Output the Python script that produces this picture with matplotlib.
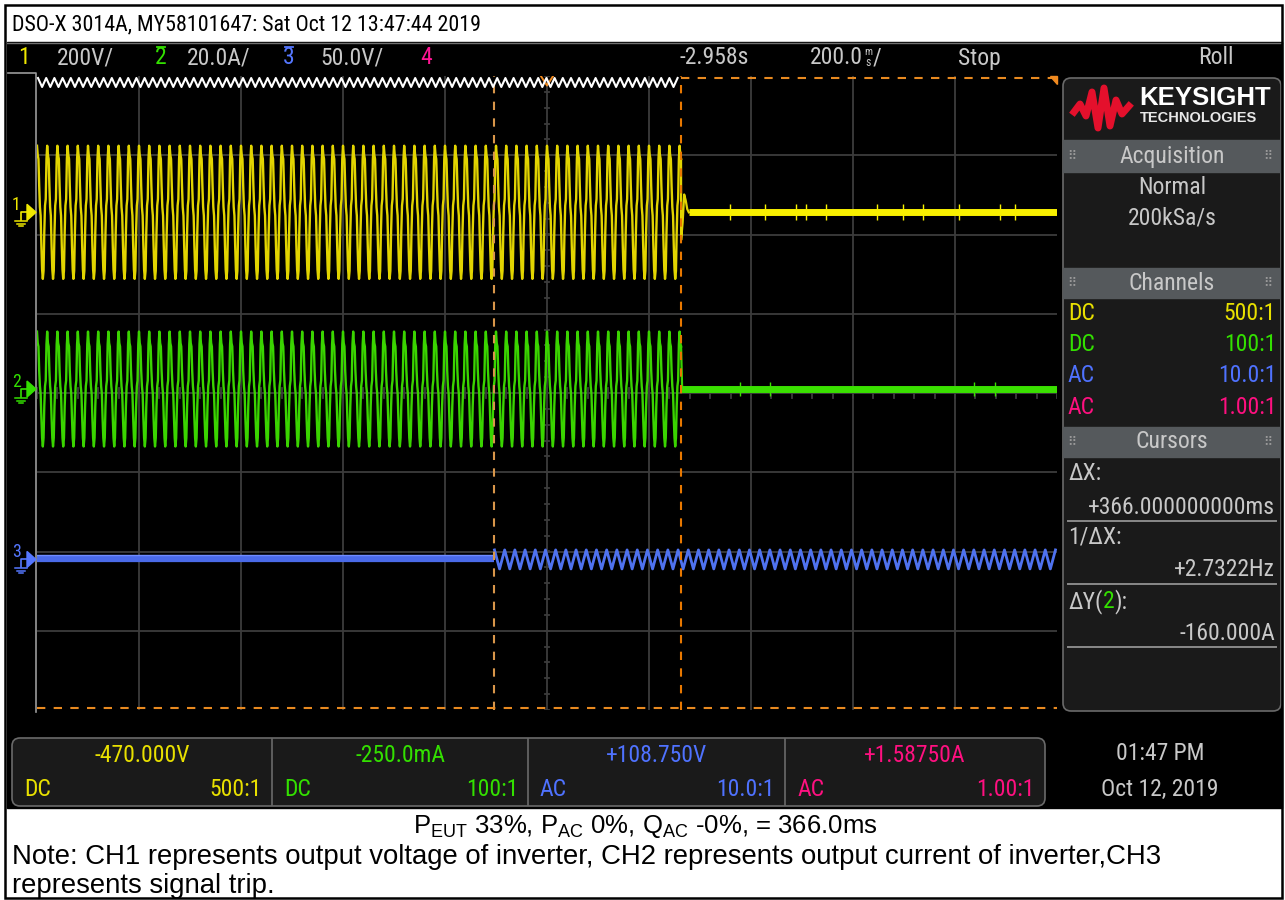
import matplotlib
matplotlib.use('Agg')
import numpy as np
import matplotlib.pyplot as plt
from matplotlib.patches import Rectangle, FancyBboxPatch, Polygon
from matplotlib import font_manager
from matplotlib.font_manager import FontProperties

# ---- pick a narrow font for the scope UI ----
def pick_narrow():
    tl = font_manager.fontManager.ttflist
    for want in ['Liberation Sans Narrow', 'Roboto Condensed', 'Open Sans Condensed', 'Arial Narrow']:
        for f in tl:
            if f.name == want and f.style == 'normal' and f.weight in (400, 'normal', 'regular'):
                return f.fname
    for f in tl:
        if f.name == 'DejaVu Sans' and f.stretch == 'condensed' and f.style == 'normal' \
                and f.weight in (400, 'normal', 'book', 'regular'):
            return f.fname
    for f in tl:
        if ('Condensed' in f.name or 'Narrow' in f.name) and f.style == 'normal':
            return f.fname
    return None

_nf = pick_narrow()
NFP = FontProperties(fname=_nf) if _nf else FontProperties(family='Roboto')
SANS = 'Liberation Sans'
plt.rcParams['mathtext.fontset'] = 'custom'
plt.rcParams['mathtext.rm'] = SANS

# ---------------- data ----------------
time_center = -2.958          # s
time_per_div = 0.2            # s/div
cursor_x1 = -3.061            # s
cursor_x2 = -2.695            # s (trip)
period = 0.02                 # 50 Hz

ch1_scale = 200.0             # V/div
ch1_offset_div = 2.28
ch1_peak = 168.0              # V
ch1_cycle = [1.0, 0.86, 0.8, 0.4, 0.08, -0.05, -0.5, -0.86, -1.0, -0.88, -0.3, 0.1, 0.2, 0.8]
ch1_trip_tail = [-70.0, -25.0, 45.0, 30.0, 8.0, 0.0]       # V, 3 ms apart
ch1_spike_times = [-2.60, -2.53, -2.47, -2.45, -2.41, -2.31, -2.26, -2.22, -2.15, -2.07, -2.04]

ch2_scale = 20.0              # A/div
ch2_offset_div = 0.05
ch2_peak = 14.5               # A
ch2_cycle = [1.0, 0.8, 0.74, 0.32, 0.05, -0.08, -0.5, -0.85, -1.0, -0.85, -0.3, 0.05, 0.15, 0.78]
ch2_spike_times = [-2.58, -2.52, -2.12, -2.08]

ch3_scale = 50.0              # V/div
ch3_offset_div = -2.10
ch3_ripple = 6.0              # V
ch3_cycle = [1.0, -1.0]

header_items = [("1", "#f0e800"), ("200V/", "#c8c8c8"), ("2", "#33e000"), ("20.0A/", "#c8c8c8"),
                ("3", "#5577ff"), ("50.0V/", "#c8c8c8"), ("4", "#ff1493")]
header_x = [18, 57, 155, 187, 283, 320, 420]

channel_rows = [("DC", "500:1", "#e8e000"), ("DC", "100:1", "#33e000"),
                ("AC", "10.0:1", "#4f72ff"), ("AC", "1.00:1", "#ff1080")]
meas_values = ["-470.000V", "-250.0mA", "+108.750V", "+1.58750A"]
meas_coupling = ["DC", "DC", "AC", "AC"]
meas_ratio = ["500:1", "100:1", "10.0:1", "1.00:1"]
meas_colors = ["#e8e000", "#33e000", "#4f72ff", "#ff1080"]

# ---------------- figure ----------------
W, H = 1285, 900
fig = plt.figure(figsize=(W / 100, H / 100), dpi=100)
ov = fig.add_axes([0, 0, 1, 1], zorder=0)
ov.set_xlim(0, W); ov.set_ylim(H, 0); ov.axis('off')
top = fig.add_axes([0, 0, 1, 1], zorder=5)
top.set_xlim(0, W); top.set_ylim(H, 0); top.axis('off'); top.patch.set_alpha(0)
renderer = fig.canvas.get_renderer()

def text_w(s, size, fp=None, **kw):
    t = ov.text(0, 0, s, fontproperties=fp, fontsize=size, **kw)
    w = t.get_window_extent(renderer).width
    t.remove()
    return w

# scope font size: fit the long cursor readout to its width in the reference
FS = min(17.0, 16.0 * 203.0 / text_w("+366.000000000ms", 16.0, NFP))

def st(x, y, s, color='#c8c8c8', ha='left', size=None, z=4):
    return ov.text(x, y, s, fontproperties=NFP, fontsize=size or FS, color=color,
                   ha=ha, va='center', zorder=z)

def seq(x, y, parts, size=None):
    for s, c in parts:
        st(x, y, s, c, size=size)
        x += text_w(s, size or FS, NFP)

GRAY = '#c8c8c8'

# white background and outer frame
ov.add_patch(Rectangle((0, 0), W, H, color='white', zorder=0))
ov.add_patch(Rectangle((5, 5), W - 8, H - 7, fill=False, ec='black', lw=1.8, zorder=5))
# black screen
ov.add_patch(Rectangle((7, 42), W - 10, 766, color='black', zorder=1))
ov.plot([7, W - 3], [43, 43], color='#707070', lw=1, zorder=2)

title = "DSO-X 3014A, MY58101647: Sat Oct 12 13:47:44 2019"
tfs = min(16.0, 15.0 * 468.0 / text_w(title, 15.0, NFP))
ov.text(12, 25, title, fontproperties=NFP, fontsize=tfs, va='center', ha='left', color='black', zorder=3)

# header row
for (s, c), x in zip(header_items, header_x):
    st(x, 58, s, c)
for x, c in [(157, "#33e000"), (285, "#5577ff")]:
    ov.plot([x, x + 8], [47, 47], color=c, lw=1.3, zorder=3)
st(680, 58, "-2.958s")
st(810, 58, "200.0")
xm = 810 + text_w("200.0", FS, NFP) + 1
st(xm, 52, "m", size=FS * 0.45)
st(xm + 1, 63, "s", size=FS * 0.5)
st(xm + text_w("m", FS * 0.45, NFP) + 1, 58, "/")
st(958, 58, "Stop")
st(1198, 58, "Roll")

# left marker column border
ov.plot([8, 36, 36], [73, 73, 712], color='#9a9a9a', lw=1.2, zorder=3)

# roll memory zigzag (drawn on top of the scope area)
zx = np.arange(38, 681, 4.1)
zy = np.where(np.arange(len(zx)) % 2 == 0, 78, 87)
top.plot(zx, zy, color='white', lw=1.5, zorder=4)

# channel ground markers
for lab, ydiv, c in [("1", ch1_offset_div, "#f0e800"), ("2", ch2_offset_div, "#33e000"),
                     ("3", ch3_offset_div, "#5577ff")]:
    yp = 393 - ydiv * 79.25
    st(12, yp - 7, lab, c, size=FS * 0.75)
    ov.add_patch(Polygon([[27, yp - 8], [36, yp], [27, yp + 8]], color=c, zorder=4))
    ov.plot([21, 21, 27], [yp + 8, yp, yp], color=c, lw=1.2, zorder=4)
    for i, w in enumerate([6, 4, 2]):
        ov.plot([21 - w, 21 + w], [yp + 9 + 2.5 * i] * 2, color=c, lw=1.1, zorder=4)

# ---------------- main scope axes ----------------
L, T, R, B = 37, 76, 1057, 710
ax = fig.add_axes([L / W, 1 - B / H, (R - L) / W, (B - T) / H], zorder=2)
ax.set_facecolor('black')
x0 = time_center - 5 * time_per_div
x1 = time_center + 5 * time_per_div
ax.set_xlim(x0, x1); ax.set_ylim(-4, 4)
for s in ax.spines.values():
    s.set_visible(False)
ax.set_xticks([]); ax.set_yticks([])

gc = '#3c3c3c'
for k in range(1, 10):
    ax.axvline(x0 + k * time_per_div, color=gc, lw=1.3, zorder=1)
for k in range(-3, 4):
    ax.axhline(k, color=gc, lw=1.3, zorder=1)
for yy in np.arange(-4, 4.01, 0.2):
    ax.plot([time_center - 0.004, time_center + 0.004], [yy, yy], color=gc, lw=1.3, zorder=1)
for xx in np.arange(x0, x1 + 1e-9, time_per_div / 5):
    ax.plot([xx, xx], [-0.06, 0.06], color=gc, lw=1.3, zorder=1)

def tiled(cycle, t_start, t_end):
    dt = period / len(cycle)
    n = int(np.ceil((t_end - t_start) / period)) + 1
    vals = np.tile(np.asarray(cycle, float), n)
    t = t_start + np.arange(len(vals)) * dt
    m = t <= t_end
    return t[m], vals[m]

# channel 1
t, v = tiled(ch1_cycle, x0, cursor_x2)
ax.plot(t, v * ch1_peak / ch1_scale + ch1_offset_div, color='#e2d400', lw=1.7, zorder=3)
tt = cursor_x2 + np.arange(len(ch1_trip_tail)) * 0.003
ax.plot(np.r_[t[-1], tt], np.r_[v[-1] * ch1_peak, ch1_trip_tail] / ch1_scale + ch1_offset_div,
        color='#e2d400', lw=1.6, zorder=3)
ax.plot([tt[-1], x1], [ch1_offset_div] * 2, color='#f8f000', lw=5, solid_capstyle='butt', zorder=3)
ax.vlines(ch1_spike_times, ch1_offset_div - 0.1, ch1_offset_div + 0.1, color='#f8f000', lw=1, zorder=3)

# channel 2
t, v = tiled(ch2_cycle, x0, cursor_x2)
ax.plot(t, v * ch2_peak / ch2_scale + ch2_offset_div, color='#3ad400', lw=1.7, zorder=3)
ax.plot([t[-1], cursor_x2 + 0.002], [v[-1] * ch2_peak / ch2_scale + ch2_offset_div, ch2_offset_div],
        color='#3ad400', lw=1.6, zorder=3)
ax.plot([cursor_x2, x1], [ch2_offset_div] * 2, color='#3ae000', lw=5, solid_capstyle='butt', zorder=3)
ax.vlines(ch2_spike_times, ch2_offset_div - 0.09, ch2_offset_div + 0.09, color='#3ae000', lw=1, zorder=3)

# channel 3
ax.plot([x0, cursor_x1], [ch3_offset_div] * 2, color='#4a6ae8', lw=4.5, solid_capstyle='butt', zorder=3)
ax.plot([x0, cursor_x1], [ch3_offset_div + 0.05] * 2, color='#6f8cff', lw=1, zorder=3)
t, v = tiled(ch3_cycle, cursor_x1, x1)
ax.plot(t, v * ch3_ripple / ch3_scale + ch3_offset_div, color='#4f72ef', lw=2, zorder=3)

# cursors
ax.axvline(cursor_x1, color='#d8964a', ls=(0, (4, 4)), lw=1.5, zorder=4)
ax.axvline(cursor_x2, color='#e87800', ls=(0, (4, 4)), lw=1.5, zorder=4)
ax.plot([cursor_x2, x1], [3.98, 3.98], color='#e88a20', ls=(0, (4, 4)), lw=1.5, zorder=4)
ax.plot([x0, x1], [-3.98, -3.98], color='#e88a20', ls=(0, (4, 4)), lw=1.5, zorder=4)
ax.add_patch(Polygon([[x1 - 0.014, 4], [x1, 4], [x1, 3.9]], color='#f08a20', zorder=5, clip_on=False))
ax.plot([time_center - 0.012, time_center, time_center + 0.012], [4.0, 3.88, 4.0],
        color='#f08a20', lw=1.4, zorder=5)

# ---------------- right panel ----------------
ov.add_patch(FancyBboxPatch((1063, 78), 218, 633, boxstyle='round,pad=0,rounding_size=8',
                            fc='#1a1a1a', ec='#6a6a6a', lw=1.2, zorder=2))
logo_x = [1074, 1080, 1086, 1092, 1098, 1104, 1110, 1116, 1122, 1129]
logo_y = [112, 104, 116, 92, 128, 88, 126, 100, 114, 106]
ov.plot(logo_x, logo_y, color='#e4102c', lw=5, solid_joinstyle='round', zorder=3)
ov.text(1139, 98, "KEYSIGHT", family=SANS, weight='bold', fontsize=18.5, color='white',
        va='center', ha='left', zorder=3)
ov.text(1140, 118, "TECHNOLOGIES", family=SANS, weight='bold', fontsize=10.5, color='#e8e8e8',
        va='center', ha='left', zorder=3)

def section(y0, y1, label):
    ov.add_patch(Rectangle((1063, y0), 218, y1 - y0, color='#55595c', zorder=3))
    st(1172, (y0 + y1) / 2, label, GRAY, ha='center')
    for xd in (1072, 1268):
        ov.text(xd, (y0 + y1) / 2, "\u283F", family='DejaVu Sans', fontsize=9,
                color='#9a9a9a', ha='center', va='center', zorder=4)

section(140, 172, "Acquisition")
st(1172, 187, "Normal", ha='center')
st(1172, 218, "200kSa/s", ha='center')
section(268, 298, "Channels")
for i, (cpl, ratio, c) in enumerate(channel_rows):
    yy = 313 + i * 31.5
    st(1068, yy, cpl, c)
    st(1276, yy, ratio, c, ha='right')
section(427, 457, "Cursors")
st(1068, 473, "\u0394X:")
st(1275, 507, "+366.000000000ms", ha='right')
ov.plot([1068, 1276], [521, 521], color='#8a8a8a', lw=1.4, zorder=4)
st(1068, 537, "1/\u0394X:")
st(1275, 570, "+2.7322Hz", ha='right')
ov.plot([1068, 1276], [584, 584], color='#8a8a8a', lw=1.4, zorder=4)
seq(1068, 602, [("\u0394Y(", GRAY), ("2", '#33e000'), ("):", GRAY)])
st(1275, 633, "-160.000A", ha='right')
ov.plot([1068, 1276], [647, 647], color='#8a8a8a', lw=1.4, zorder=4)

# ---------------- bottom measurement bar ----------------
ov.add_patch(FancyBboxPatch((12, 738), 1033, 68, boxstyle='round,pad=0,rounding_size=8',
                            fc='#1a1a1a', ec='#6a6a6a', lw=1.2, zorder=2))
cells = [12, 272, 528, 785, 1045]
for xd in cells[1:-1]:
    ov.plot([xd, xd], [739, 805], color='#6a6a6a', lw=1.2, zorder=3)
for i in range(4):
    c = meas_colors[i]
    st((cells[i] + cells[i + 1]) / 2, 756, meas_values[i], c, ha='center')
    st(cells[i] + 12, 789, meas_coupling[i], c)
    st(cells[i + 1] - 10, 789, meas_ratio[i], c, ha='right')
st(1160, 754, "01:47 PM", ha='center')
st(1160, 789, "Oct 12, 2019", ha='center')

# ---------------- caption ----------------
ov.text(645, 826, r"P$_\mathrm{EUT}$ 33%, P$_\mathrm{AC}$ 0%, Q$_\mathrm{AC}$ -0%, = 366.0ms",
        family=SANS, fontsize=18.5, color='black', ha='center', va='center', zorder=4)
ov.text(12, 857, "Note: CH1 represents output voltage of inverter, CH2 represents output current of inverter,CH3",
        family=SANS, fontsize=19.8, color='black', ha='left', va='center', zorder=4)
ov.text(12, 886, "represents signal trip.", family=SANS, fontsize=19.8, color='black',
        ha='left', va='center', zorder=4)

fig.savefig('out.png', dpi=100)
